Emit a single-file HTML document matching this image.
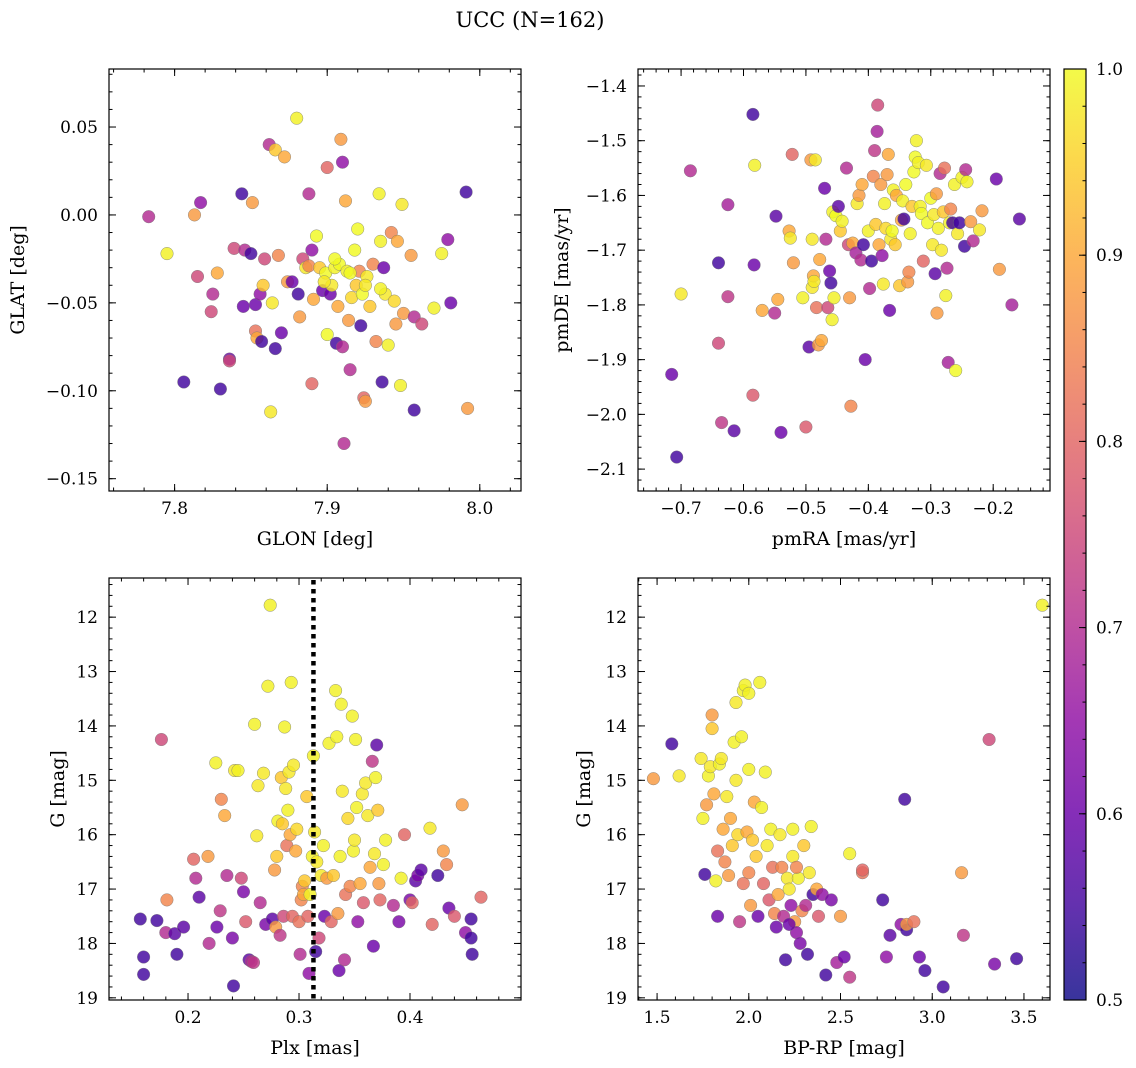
<!DOCTYPE html>
<html><head><meta charset="utf-8">
<style>
html,body{margin:0;padding:0;background:#fff;}
svg{display:block;font-family:"DejaVu Serif","Liberation Serif",serif;}
</style></head>
<body>
<svg id="fig" width="1136" height="1068" viewBox="0 0 1136 1068" xmlns="http://www.w3.org/2000/svg">
<text x="530" y="27" font-size="21" text-anchor="middle">UCC (N=162)</text>
</svg>
<script>
// Panel 1: GLON, GLAT, membership probability
const p1GLON=[7.783,7.795,7.806,7.813,7.815,7.817,7.825,7.824,7.828,7.830,7.836,7.836,7.839,7.844,7.845,7.846,7.850,7.851,7.853,7.853,7.854,7.856,7.857,7.858,7.859,7.862,7.863,7.864,7.866,7.866,7.868,7.870,7.872,7.874,7.877,7.880,7.881,7.882,7.884,7.886,7.888,7.888,7.890,7.890,7.891,7.893,7.895,7.897,7.899,7.900,7.900,7.902,7.903,7.905,7.906,7.907,7.908,7.909,7.910,7.910,7.911,7.912,7.913,7.914,7.915,7.916,7.918,7.919,7.920,7.921,7.922,7.923,7.924,7.925,7.926,7.928,7.930,7.932,7.934,7.935,7.936,7.937,7.938,7.940,7.942,7.944,7.945,7.946,7.948,7.949,7.950,7.955,7.957,7.957,7.962,7.970,7.975,7.979,7.981,7.991,7.992,7.905,7.915,7.925,7.898,7.935];
const p1GLAT=[-0.001,-0.022,-0.095,0.000,-0.035,0.007,-0.045,-0.055,-0.033,-0.099,-0.082,-0.083,-0.019,0.012,-0.052,-0.020,-0.022,0.007,-0.051,-0.066,-0.070,-0.045,-0.072,-0.040,-0.025,0.040,-0.112,-0.050,0.037,-0.076,-0.023,-0.067,0.033,-0.038,-0.038,0.055,-0.045,-0.058,-0.025,-0.030,0.012,-0.029,-0.096,-0.020,-0.048,-0.012,-0.030,-0.043,-0.033,0.027,-0.068,-0.045,-0.040,-0.030,-0.073,-0.052,-0.028,0.043,0.030,-0.075,-0.130,0.008,-0.032,-0.060,-0.088,-0.047,-0.020,-0.040,-0.008,-0.032,-0.063,-0.045,-0.104,-0.106,-0.035,-0.052,-0.028,-0.072,0.012,-0.015,-0.095,-0.030,-0.045,-0.074,-0.010,-0.049,-0.062,-0.015,-0.097,0.006,-0.056,-0.023,-0.111,-0.058,-0.062,-0.053,-0.022,-0.014,-0.050,0.013,-0.110,-0.025,-0.033,-0.040,-0.038,-0.042];
const p1Prob=[0.7,0.99,0.55,0.88,0.75,0.65,0.7,0.75,0.9,0.55,0.6,0.75,0.75,0.55,0.6,0.7,0.55,0.88,0.6,0.82,0.9,0.65,0.55,0.94,0.75,0.7,0.98,0.98,0.94,0.55,0.85,0.6,0.9,0.88,0.6,0.99,0.55,0.88,0.75,0.98,0.7,0.85,0.8,0.65,0.9,1.0,0.94,0.6,1.0,0.8,1.0,0.6,0.98,0.99,0.55,0.9,1.0,0.88,0.65,0.7,0.7,0.9,0.99,0.88,0.7,0.96,1.0,0.94,1.0,0.85,0.55,1.0,0.8,0.88,0.98,0.94,0.85,0.85,0.99,0.99,0.55,0.6,0.98,0.99,0.85,0.96,0.88,0.9,0.99,0.98,0.88,0.88,0.55,0.7,0.75,0.99,0.99,0.65,0.6,0.55,0.88,1.0,1.0,0.98,0.98,0.99];

// Panel 2: pmRA, pmDE
const p2PMRA=[-0.715,-0.707,-0.700,-0.685,-0.640,-0.640,-0.635,-0.625,-0.625,-0.615,-0.585,-0.585,-0.583,-0.582,-0.570,-0.550,-0.548,-0.545,-0.540,-0.527,-0.525,-0.522,-0.520,-0.505,-0.500,-0.495,-0.492,-0.490,-0.490,-0.488,-0.487,-0.485,-0.483,-0.480,-0.478,-0.475,-0.470,-0.468,-0.465,-0.462,-0.460,-0.458,-0.457,-0.455,-0.452,-0.448,-0.445,-0.442,-0.435,-0.432,-0.430,-0.428,-0.425,-0.420,-0.418,-0.415,-0.412,-0.410,-0.408,-0.405,-0.400,-0.398,-0.395,-0.392,-0.390,-0.388,-0.386,-0.385,-0.383,-0.380,-0.378,-0.376,-0.374,-0.372,-0.370,-0.368,-0.366,-0.364,-0.362,-0.360,-0.357,-0.355,-0.350,-0.347,-0.345,-0.343,-0.340,-0.337,-0.335,-0.333,-0.330,-0.327,-0.325,-0.323,-0.320,-0.317,-0.315,-0.312,-0.307,-0.305,-0.300,-0.297,-0.295,-0.293,-0.291,-0.290,-0.288,-0.285,-0.283,-0.280,-0.278,-0.276,-0.274,-0.272,-0.270,-0.268,-0.265,-0.262,-0.260,-0.257,-0.254,-0.250,-0.246,-0.244,-0.242,-0.236,-0.232,-0.222,-0.218,-0.195,-0.190,-0.170,-0.158];
const p2PMDE=[-1.927,-2.078,-1.780,-1.555,-1.723,-1.870,-2.015,-1.617,-1.785,-2.030,-1.452,-1.965,-1.727,-1.545,-1.810,-1.815,-1.638,-1.790,-2.033,-1.665,-1.678,-1.525,-1.723,-1.787,-2.023,-1.877,-1.535,-1.680,-1.768,-1.747,-1.757,-1.535,-1.805,-1.873,-1.717,-1.865,-1.587,-1.680,-1.805,-1.738,-1.760,-1.827,-1.630,-1.787,-1.637,-1.620,-1.665,-1.647,-1.550,-1.690,-1.787,-1.985,-1.687,-1.705,-1.615,-1.600,-1.718,-1.580,-1.690,-1.900,-1.665,-1.770,-1.720,-1.565,-1.518,-1.653,-1.483,-1.435,-1.690,-1.580,-1.710,-1.762,-1.615,-1.660,-1.562,-1.525,-1.810,-1.680,-1.665,-1.590,-1.690,-1.600,-1.765,-1.645,-1.610,-1.643,-1.580,-1.758,-1.740,-1.670,-1.620,-1.557,-1.530,-1.500,-1.540,-1.620,-1.633,-1.720,-1.545,-1.650,-1.605,-1.690,-1.635,-1.743,-1.597,-1.815,-1.660,-1.560,-1.700,-1.630,-1.550,-1.783,-1.733,-1.905,-1.650,-1.625,-1.650,-1.580,-1.920,-1.670,-1.650,-1.567,-1.693,-1.553,-1.575,-1.648,-1.683,-1.663,-1.628,-1.570,-1.735,-1.800,-1.643];
const p2Prob=[0.6,0.55,0.98,0.7,0.55,0.75,0.72,0.68,0.72,0.58,0.55,0.78,0.6,0.99,0.9,0.7,0.58,0.9,0.6,0.9,0.98,0.8,0.88,0.99,0.78,0.58,0.88,0.98,0.98,0.9,0.98,0.98,0.82,0.88,0.9,0.9,0.6,0.7,0.75,0.6,0.55,0.99,0.99,0.99,1.0,0.58,0.94,0.99,0.7,0.75,0.88,0.85,0.9,0.68,0.98,0.88,0.7,0.9,0.55,0.6,0.99,0.7,0.55,0.85,0.72,0.94,0.68,0.75,0.9,0.88,0.65,0.98,0.99,0.96,0.88,0.9,0.6,0.98,1.0,0.99,0.94,0.9,0.94,0.9,0.99,0.55,1.0,0.88,0.85,0.99,0.94,1.0,1.0,0.99,0.99,0.99,1.0,0.8,0.98,1.0,1.0,0.98,0.98,0.58,0.88,0.88,0.99,0.7,0.98,0.94,0.82,0.99,0.7,0.68,0.99,0.85,0.55,0.99,1.0,0.98,0.55,0.99,0.55,0.7,0.99,0.88,0.7,0.98,0.88,0.6,0.88,0.68,0.58];

// Panel 3: Plx, G
const p3Plx=[0.157,0.160,0.160,0.172,0.176,0.180,0.181,0.188,0.190,0.196,0.205,0.207,0.210,0.218,0.219,0.225,0.226,0.229,0.230,0.233,0.235,0.240,0.241,0.242,0.245,0.248,0.250,0.252,0.255,0.257,0.259,0.260,0.262,0.263,0.265,0.268,0.270,0.272,0.274,0.276,0.278,0.279,0.280,0.281,0.283,0.284,0.285,0.286,0.287,0.288,0.289,0.290,0.291,0.292,0.293,0.294,0.295,0.297,0.298,0.300,0.301,0.302,0.303,0.304,0.305,0.307,0.308,0.309,0.310,0.312,0.313,0.314,0.315,0.316,0.318,0.320,0.322,0.323,0.325,0.327,0.329,0.331,0.333,0.334,0.335,0.336,0.337,0.338,0.339,0.341,0.342,0.344,0.346,0.348,0.349,0.350,0.351,0.352,0.353,0.355,0.357,0.358,0.360,0.362,0.364,0.366,0.367,0.368,0.369,0.370,0.371,0.372,0.373,0.376,0.378,0.385,0.390,0.392,0.395,0.400,0.402,0.405,0.407,0.410,0.418,0.420,0.425,0.430,0.433,0.435,0.440,0.447,0.450,0.455,0.456,0.464,0.455];
const p3G=[17.55,18.25,18.57,17.58,14.25,17.80,17.20,17.82,18.20,17.70,16.45,16.80,17.15,16.40,18.00,14.68,17.70,17.40,15.35,15.65,16.75,17.90,18.78,14.82,14.82,16.80,17.05,17.60,18.30,18.33,18.35,13.97,16.02,15.10,17.25,14.87,17.65,13.27,11.78,17.55,16.65,17.70,16.40,15.75,17.85,14.95,15.80,17.50,14.02,15.15,16.20,15.55,14.85,16.00,13.20,17.50,14.72,16.30,15.90,17.60,18.20,17.20,16.95,17.10,16.85,15.30,17.50,18.55,17.10,16.40,14.55,15.95,18.15,16.50,17.90,16.75,16.20,17.50,16.80,14.32,17.60,16.75,13.35,14.20,17.45,18.50,16.40,13.60,15.20,18.30,17.10,15.70,16.95,13.82,16.30,16.10,14.25,15.50,17.60,16.90,15.25,17.25,15.05,15.65,16.60,14.65,18.05,16.35,14.95,14.35,15.55,16.90,17.20,16.55,16.10,17.30,17.60,16.80,16.00,17.20,17.25,16.85,16.75,16.65,15.88,17.65,16.75,16.30,16.55,17.35,17.50,15.45,17.80,17.90,18.20,17.15,17.55];
const p3Prob=[0.55,0.55,0.55,0.55,0.75,0.7,0.85,0.58,0.55,0.58,0.8,0.7,0.58,0.88,0.7,0.99,0.6,0.72,0.85,0.9,0.7,0.62,0.55,0.98,0.99,0.75,0.62,0.78,0.58,0.7,0.72,0.99,0.98,0.98,0.7,0.98,0.62,0.99,0.99,0.58,0.88,0.88,0.94,0.99,0.72,0.94,0.94,0.75,0.99,0.98,0.82,0.99,0.98,0.9,0.99,0.8,0.98,0.9,0.96,0.82,0.7,0.85,0.85,0.9,0.94,0.94,0.8,0.65,0.99,0.99,0.99,0.98,0.55,0.98,0.75,0.98,0.99,0.6,0.88,0.99,0.8,0.94,0.99,0.99,0.88,0.6,0.99,0.99,0.98,0.7,0.82,0.96,0.85,0.99,0.99,0.98,0.99,0.99,0.65,0.9,0.98,0.78,0.98,0.98,0.9,0.72,0.6,0.98,0.99,0.58,0.94,0.88,0.8,0.99,0.99,0.7,0.62,0.99,0.8,0.62,0.8,0.58,0.62,0.58,0.98,0.8,0.55,0.88,0.85,0.6,0.78,0.88,0.65,0.55,0.55,0.8,0.55];
const p3PlxMarker=[0.313];

// Panel 4: BP-RP, G
const p4BPRP=[1.48,1.58,1.62,1.74,1.75,1.76,1.77,1.78,1.79,1.80,1.80,1.81,1.82,1.83,1.83,1.84,1.85,1.86,1.87,1.88,1.89,1.90,1.91,1.92,1.93,1.93,1.94,1.95,1.96,1.97,1.97,1.98,1.99,2.00,2.00,2.01,2.02,2.03,2.04,2.05,2.06,2.07,2.08,2.09,2.10,2.11,2.12,2.13,2.14,2.15,2.16,2.17,2.18,2.19,2.20,2.21,2.22,2.23,2.24,2.24,2.25,2.26,2.27,2.28,2.29,2.30,2.31,2.32,2.33,2.34,2.35,2.37,2.38,2.40,2.42,2.45,2.48,2.50,2.52,2.55,2.55,2.62,2.62,2.73,2.75,2.77,2.83,2.85,2.86,2.86,2.90,2.93,2.96,3.06,3.16,3.17,3.31,3.34,3.46,3.60,2.00,2.22,2.26];
const p4G=[14.97,14.33,14.92,14.60,15.70,16.73,15.45,14.92,14.75,13.80,14.05,15.25,16.85,16.30,17.50,14.70,14.60,15.90,16.50,15.30,16.75,15.70,16.20,14.30,13.57,15.00,16.00,17.60,14.20,13.35,16.90,13.25,15.95,16.70,14.80,17.30,16.10,15.40,16.40,17.50,13.20,15.50,16.90,14.85,16.20,17.20,15.90,16.60,17.45,17.70,17.10,16.00,16.60,17.50,18.30,16.80,17.00,17.30,15.90,16.40,17.60,17.80,16.80,18.00,17.40,16.20,17.30,18.20,16.70,15.85,17.10,17.00,17.50,17.10,18.58,17.20,18.35,17.50,18.25,16.35,18.62,16.70,16.65,17.20,18.25,17.85,17.65,15.35,17.75,17.65,17.60,18.25,18.50,18.80,16.70,17.85,14.25,18.38,18.28,11.78,13.40,17.65,16.60];
const p4Prob=[0.88,0.55,0.98,0.98,0.99,0.55,0.88,0.99,0.98,0.88,0.94,0.9,0.99,0.82,0.6,0.99,0.98,0.9,0.85,0.98,0.88,0.9,0.94,0.99,0.98,0.98,0.96,0.72,0.99,0.99,0.82,0.99,0.9,0.85,0.99,0.88,0.94,0.9,0.94,0.6,0.99,0.99,0.8,0.99,0.98,0.78,0.99,0.82,0.85,0.6,0.9,0.98,0.85,0.7,0.55,0.98,0.98,0.65,0.99,0.98,0.88,0.65,0.99,0.62,0.85,0.94,0.7,0.55,0.98,0.99,0.55,0.9,0.78,0.65,0.55,0.62,0.68,0.88,0.6,0.99,0.72,0.82,0.8,0.55,0.65,0.58,0.65,0.55,0.55,0.88,0.82,0.6,0.55,0.55,0.88,0.72,0.75,0.62,0.55,0.99,0.99,0.6,0.85];

// Ticks
const p1XTicks=[7.8,7.9,8.0], p1XLabels=["7.8","7.9","8.0"];
const p1YTicks=[0.05,0.0,-0.05,-0.1,-0.15], p1YLabels=["0.05","0.00","\u22120.05","\u22120.10","\u22120.15"];
const p2XTicks=[-0.7,-0.6,-0.5,-0.4,-0.3,-0.2], p2XLabels=["\u22120.7","\u22120.6","\u22120.5","\u22120.4","\u22120.3","\u22120.2"];
const p2YTicks=[-1.4,-1.5,-1.6,-1.7,-1.8,-1.9,-2.0,-2.1], p2YLabels=["\u22121.4","\u22121.5","\u22121.6","\u22121.7","\u22121.8","\u22121.9","\u22122.0","\u22122.1"];
const p3XTicks=[0.2,0.3,0.4], p3XLabels=["0.2","0.3","0.4"];
const gTicks=[12,13,14,15,16,17,18,19], gLabels=["12","13","14","15","16","17","18","19"];
const p4XTicks=[1.5,2.0,2.5,3.0,3.5], p4XLabels=["1.5","2.0","2.5","3.0","3.5"];
const cbTicks=[0.5,0.6,0.7,0.8,0.9,1.0], cbLabels=["0.5","0.6","0.7","0.8","0.9","1.0"];

const NS="http://www.w3.org/2000/svg";
const svg=document.getElementById('fig');
function mk(tag,attrs,parent){const e=document.createElementNS(NS,tag);for(const k in attrs)e.setAttribute(k,attrs[k]);(parent||svg).appendChild(e);return e;}

const stops=["#0d0887","#41049d","#6a00a8","#8f0da4","#b12a90","#cc4778","#e16462","#f2844b","#fca636","#fcce25","#f0f921"];
function hex(h){return [1,3,5].map(i=>parseInt(h.substr(i,2),16));}
function plasma(t){t=Math.max(0,Math.min(1,t));const f=t*10,i=Math.min(9,Math.floor(f)),r=f-i;const a=hex(stops[i]),b=hex(stops[i+1]);return "rgb("+a.map((v,k)=>Math.round(v+(b[k]-v)*r)).join(",")+")";}
function cmap(p){return plasma((p-0.5)/0.5);}

const FS=17, AFS=19;
function panel(name,box,xr,yr,xt,xl,yt,yl,xminor,yminor,xlab,ylab,ytx,xs,ys,cs){
  const [L,T,R,B]=box;
  const sx=v=>L+(v-xr[0])/(xr[1]-xr[0])*(R-L);
  const sy=v=>T+(v-yr[0])/(yr[1]-yr[0])*(B-T);
  const g=mk('g',{});
  
  
  const pts=mk('g',{},g);
  
  
  for(let i=0;i<xs.length;i++){
    const c=mk('circle',{cx:sx(xs[i]).toFixed(1),cy:sy(ys[i]).toFixed(1),r:6.3,fill:cmap(cs[i]),'fill-opacity':0.82,stroke:'#777','stroke-width':0.5,'stroke-opacity':0.8},pts);
    
    
  }
  const fr=mk('rect',{x:L,y:T,width:R-L,height:B-T,fill:'none',stroke:'#000','stroke-width':1.2},g);
  
  
  const xlo=Math.min(...xr),xhi=Math.max(...xr),ylo=Math.min(...yr),yhi=Math.max(...yr);
  for(let v=Math.ceil(xlo/xminor)*xminor;v<=xhi;v+=xminor){const x=sx(v);mk('line',{x1:x,x2:x,y1:B,y2:B-3.5,stroke:'#000'},g);mk('line',{x1:x,x2:x,y1:T,y2:T+3.5,stroke:'#000'},g);}
  for(let v=Math.ceil(ylo/yminor)*yminor;v<=yhi;v+=yminor){const y=sy(v);mk('line',{x1:L,x2:L+3.5,y1:y,y2:y,stroke:'#000'},g);mk('line',{x1:R,x2:R-3.5,y1:y,y2:y,stroke:'#000'},g);}
  xt.forEach((v,i)=>{const x=sx(v);mk('line',{x1:x,x2:x,y1:B,y2:B-7,stroke:'#000'},g);mk('line',{x1:x,x2:x,y1:T,y2:T+7,stroke:'#000'},g);
    const t=mk('text',{x:x,y:B+23,'font-size':FS,'text-anchor':'middle'},g);t.textContent=xl[i];
    
    });
  yt.forEach((v,i)=>{const y=sy(v);mk('line',{x1:L,x2:L+7,y1:y,y2:y,stroke:'#000'},g);mk('line',{x1:R,x2:R-7,y1:y,y2:y,stroke:'#000'},g);
    const t=mk('text',{x:L-11,y:y+6,'font-size':FS,'text-anchor':'end'},g);t.textContent=yl[i];
    
    });
  const xa=mk('text',{x:(L+R)/2,y:B+54,'font-size':AFS,'text-anchor':'middle'},g);xa.textContent=xlab;
  
  
  const ya=mk('text',{x:0,y:0,'font-size':AFS,'text-anchor':'middle',transform:'translate('+ytx+','+((T+B)/2)+') rotate(-90)'},g);ya.textContent=ylab;
  
  
  return {sx,sy,g};
}

panel('glon-glat-panel',[109,69,521,491],[7.757,8.027],[0.083,-0.157],p1XTicks,p1XLabels,p1YTicks,p1YLabels,0.02,0.01,'GLON [deg]','GLAT [deg]',24,p1GLON,p1GLAT,p1Prob);
panel('pm-panel',[638,69,1050,491],[-0.769,-0.109],[-1.369,-2.140],p2XTicks,p2XLabels,p2YTicks,p2YLabels,0.02,0.02,'pmRA [mas/yr]','pmDE [mas/yr]',568,p2PMRA,p2PMDE,p2Prob);
const P3=panel('plx-g-panel',[109,578,521,1000],[0.1288,0.5],[11.28,19.04],p3XTicks,p3XLabels,gTicks,gLabels,0.02,0.2,'Plx [mas]','G [mag]',64,p3Plx,p3G,p3Prob);
panel('cmd-panel',[638,578,1050,1000],[1.396,3.642],[11.28,19.04],p4XTicks,p4XLabels,gTicks,gLabels,0.1,0.2,'BP-RP [mag]','G [mag]',590,p4BPRP,p4G,p4Prob);

p3PlxMarker.forEach(v=>{
  const l=mk('line',{x1:P3.sx(v),x2:P3.sx(v),y1:580,y2:1000,stroke:'#000','stroke-width':4.5,'stroke-dasharray':'4.5,4.5'},P3.g);
  
  
});

// colorbar
const cb=mk('g',{});


const CL=1064,CR=1086,CT=69,CB=1000;
const defs=mk('defs',{},cb);
const lg=mk('linearGradient',{id:'cbg',x1:0,y1:1,x2:0,y2:0},defs);
for(let i=0;i<=20;i++){mk('stop',{offset:i/20,'stop-color':plasma(i/20),'stop-opacity':0.82},lg);}
mk('rect',{x:CL,y:CT,width:CR-CL,height:CB-CT,fill:'url(#cbg)',stroke:'#000','stroke-width':1.2},cb);
const cy=v=>CB-(v-0.5)/0.5*(CB-CT);
for(let v=0.5;v<=1.0001;v+=0.02){mk('line',{x1:CR,x2:CR-3.5,y1:cy(v),y2:cy(v),stroke:'#000'},cb);}
cbTicks.forEach((v,i)=>{mk('line',{x1:CR,x2:CR-7,y1:cy(v),y2:cy(v),stroke:'#000'},cb);
  const t=mk('text',{x:CR+10,y:cy(v)+6,'font-size':FS},cb);t.textContent=cbLabels[i];
  
  });
</script>
</body></html>
